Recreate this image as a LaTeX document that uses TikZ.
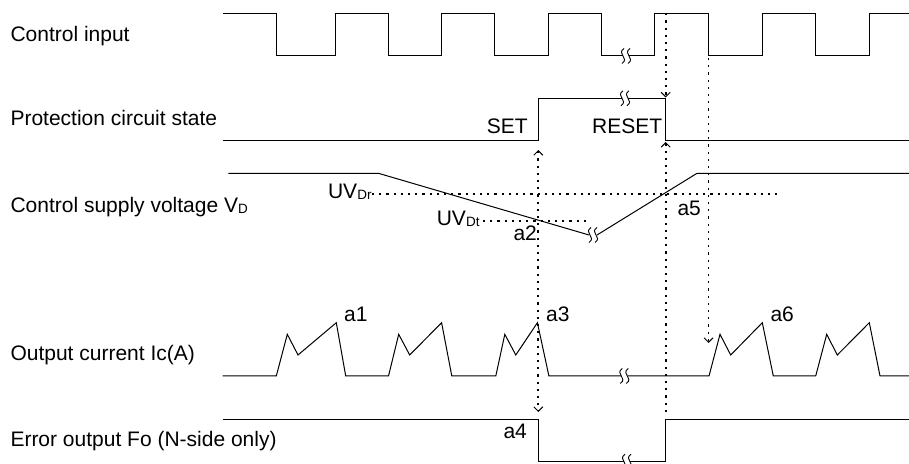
\documentclass[tikz,border=0pt]{standalone}
\usepackage{fontspec}
\setmainfont{Liberation Sans}
\usetikzlibrary{arrows.meta}
\newcommand\sbs[1]{\raisebox{-1bp}{\fontsize{13.5bp}{14bp}\selectfont #1}}
\begin{document}
\begin{tikzpicture}[x=1bp,y=-1bp,line width=1bp,
   >={Straight Barb[length=4.5bp,width=9bp,line width=1bp]},
   lbl/.style={inner sep=0pt,font=\fontsize{21bp}{25bp}\selectfont},
   dots/.style={line width=1.8bp,dash pattern=on 2.2bp off 5bp},
   brk/.pic={\draw[line width=0.9bp] (-2,-7.5) .. controls (-10,-2) and (4,2) .. (-4,7.5);
             \draw[line width=0.9bp] (4,-7.5) .. controls (-4,-2) and (10,2) .. (2,7.5);}]
\useasboundingbox (0,0) rectangle (909,464);
\node[lbl,anchor=base west] (CI) at (10,41.7) {Control input};
\node[lbl,anchor=base west] (PS) at (10,126) {Protection circuit state};
\node[lbl,anchor=base west] (VD) at (10,212.3) {Control supply voltage V\sbs{D}};
\node[lbl,anchor=base west] (IC) at (10,361) {Output current Ic(A)};
\node[lbl,anchor=base west] (FO) at (10,446.7) {Error output Fo (N-side only)};
 \draw (222.7,13.3) -- (276,13.3) -- (276,56) -- (335.3,56) -- (335.3,13.3) -- (388.7,13.3) -- (388.7,56)
   -- (441.3,56) -- (441.3,13.3) -- (494.8,13.3) -- (494.8,56) -- (548.3,56) -- (548.3,13.3)
   -- (601.3,13.3) -- (601.3,56) -- (623,56);
 \draw (629,56) -- (654.8,56) -- (654.8,13.3) -- (708.5,13.3) -- (708.5,56) -- (762.5,56) -- (762.5,13.3)
   -- (815.7,13.3) -- (815.7,56) -- (869.3,56) -- (869.3,13.3) -- (909,13.3);
\pic at (626,56) {brk};
 \draw (222.7,141) -- (538.3,141) -- (538.3,98.3) -- (622,98.3);
 \draw (628,98.3) -- (665.7,98.3) -- (665.7,141) -- (909,141);
\pic at (625,98.3) {brk};
\node[lbl,anchor=base east] (SET) at (528.3,133.3) {SET};
\node[lbl,anchor=base east] (RST) at (662.7,133.3) {RESET};
 \draw (228.4,173.3) -- (378.4,173.3) -- (589,235);
 \draw (597,235) -- (697,173.3) -- (909,173.3);
\pic at (593,235) {brk};
\node[lbl,anchor=base east] (UVR) at (372,199) {UV\sbs{Dr}};
\node[lbl,anchor=base east] (UVT) at (480,226) {UV\sbs{Dt}};
\draw[dots] (UVR.east |- 0,194) -- (781,194);
\draw[dots] (UVT.east |- 0,221) ++(3,0) -- (586,221);
\node[lbl,anchor=base west] (A2) at (513,241) {a2};
\node[lbl,anchor=base west] (A5) at (677,216) {a5};
 \draw (222.7,376) -- (276.3,376) -- (287.3,334.3) -- (298,355) -- (336.3,322.7) -- (345.7,376)
   -- (388.5,376) -- (398.7,334.3) -- (409.7,355) -- (441.6,322.7) -- (451.8,376)
   -- (495.8,376) -- (504.8,334.3) -- (515.8,355) -- (537.4,322.7) -- (548.9,376) -- (621,376);
 \draw (627.5,376) -- (709,376) -- (720,334.3) -- (730.7,355) -- (762.3,322.7) -- (773.3,376)
   -- (815.7,376) -- (826.7,334.3) -- (837.3,355) -- (869.3,322.7) -- (880,376) -- (909,376);
\pic at (624.3,376) {brk};
\node[lbl,anchor=base west] (A1) at (343.6,321.7) {a1};
\node[lbl,anchor=base west] (A3) at (545.6,321.7) {a3};
\node[lbl,anchor=base west] (A6) at (770,321.7) {a6};
 \draw (222.7,419.3) -- (538.3,419.3) -- (538.3,461.7) -- (624,461.7);
 \draw (630,461.7) -- (665.7,461.7) -- (665.7,419.3) -- (909,419.3);
\pic at (627,461.7) {brk};
\node[lbl,anchor=base west] (A4) at (503,438) {a4};
\coordinate (S1) at (538.3,150);
\coordinate (S2) at (538.3,412);
\draw[dots,<->] (S1) -- (S2);
\coordinate (R1) at (665.7,13.3);
\coordinate (R2) at (665.7,97.5);
\draw[dots,->] (R1) -- (R2);
\coordinate (R3) at (665.7,412);
\coordinate (R4) at (665.7,142);
\draw[dots,->] (R3) -- (R4);
\coordinate (N1) at (708.5,58);
\coordinate (N2) at (708.5,343);
\draw[dots,->] (N1) -- (N2);
\end{tikzpicture}
\end{document}
